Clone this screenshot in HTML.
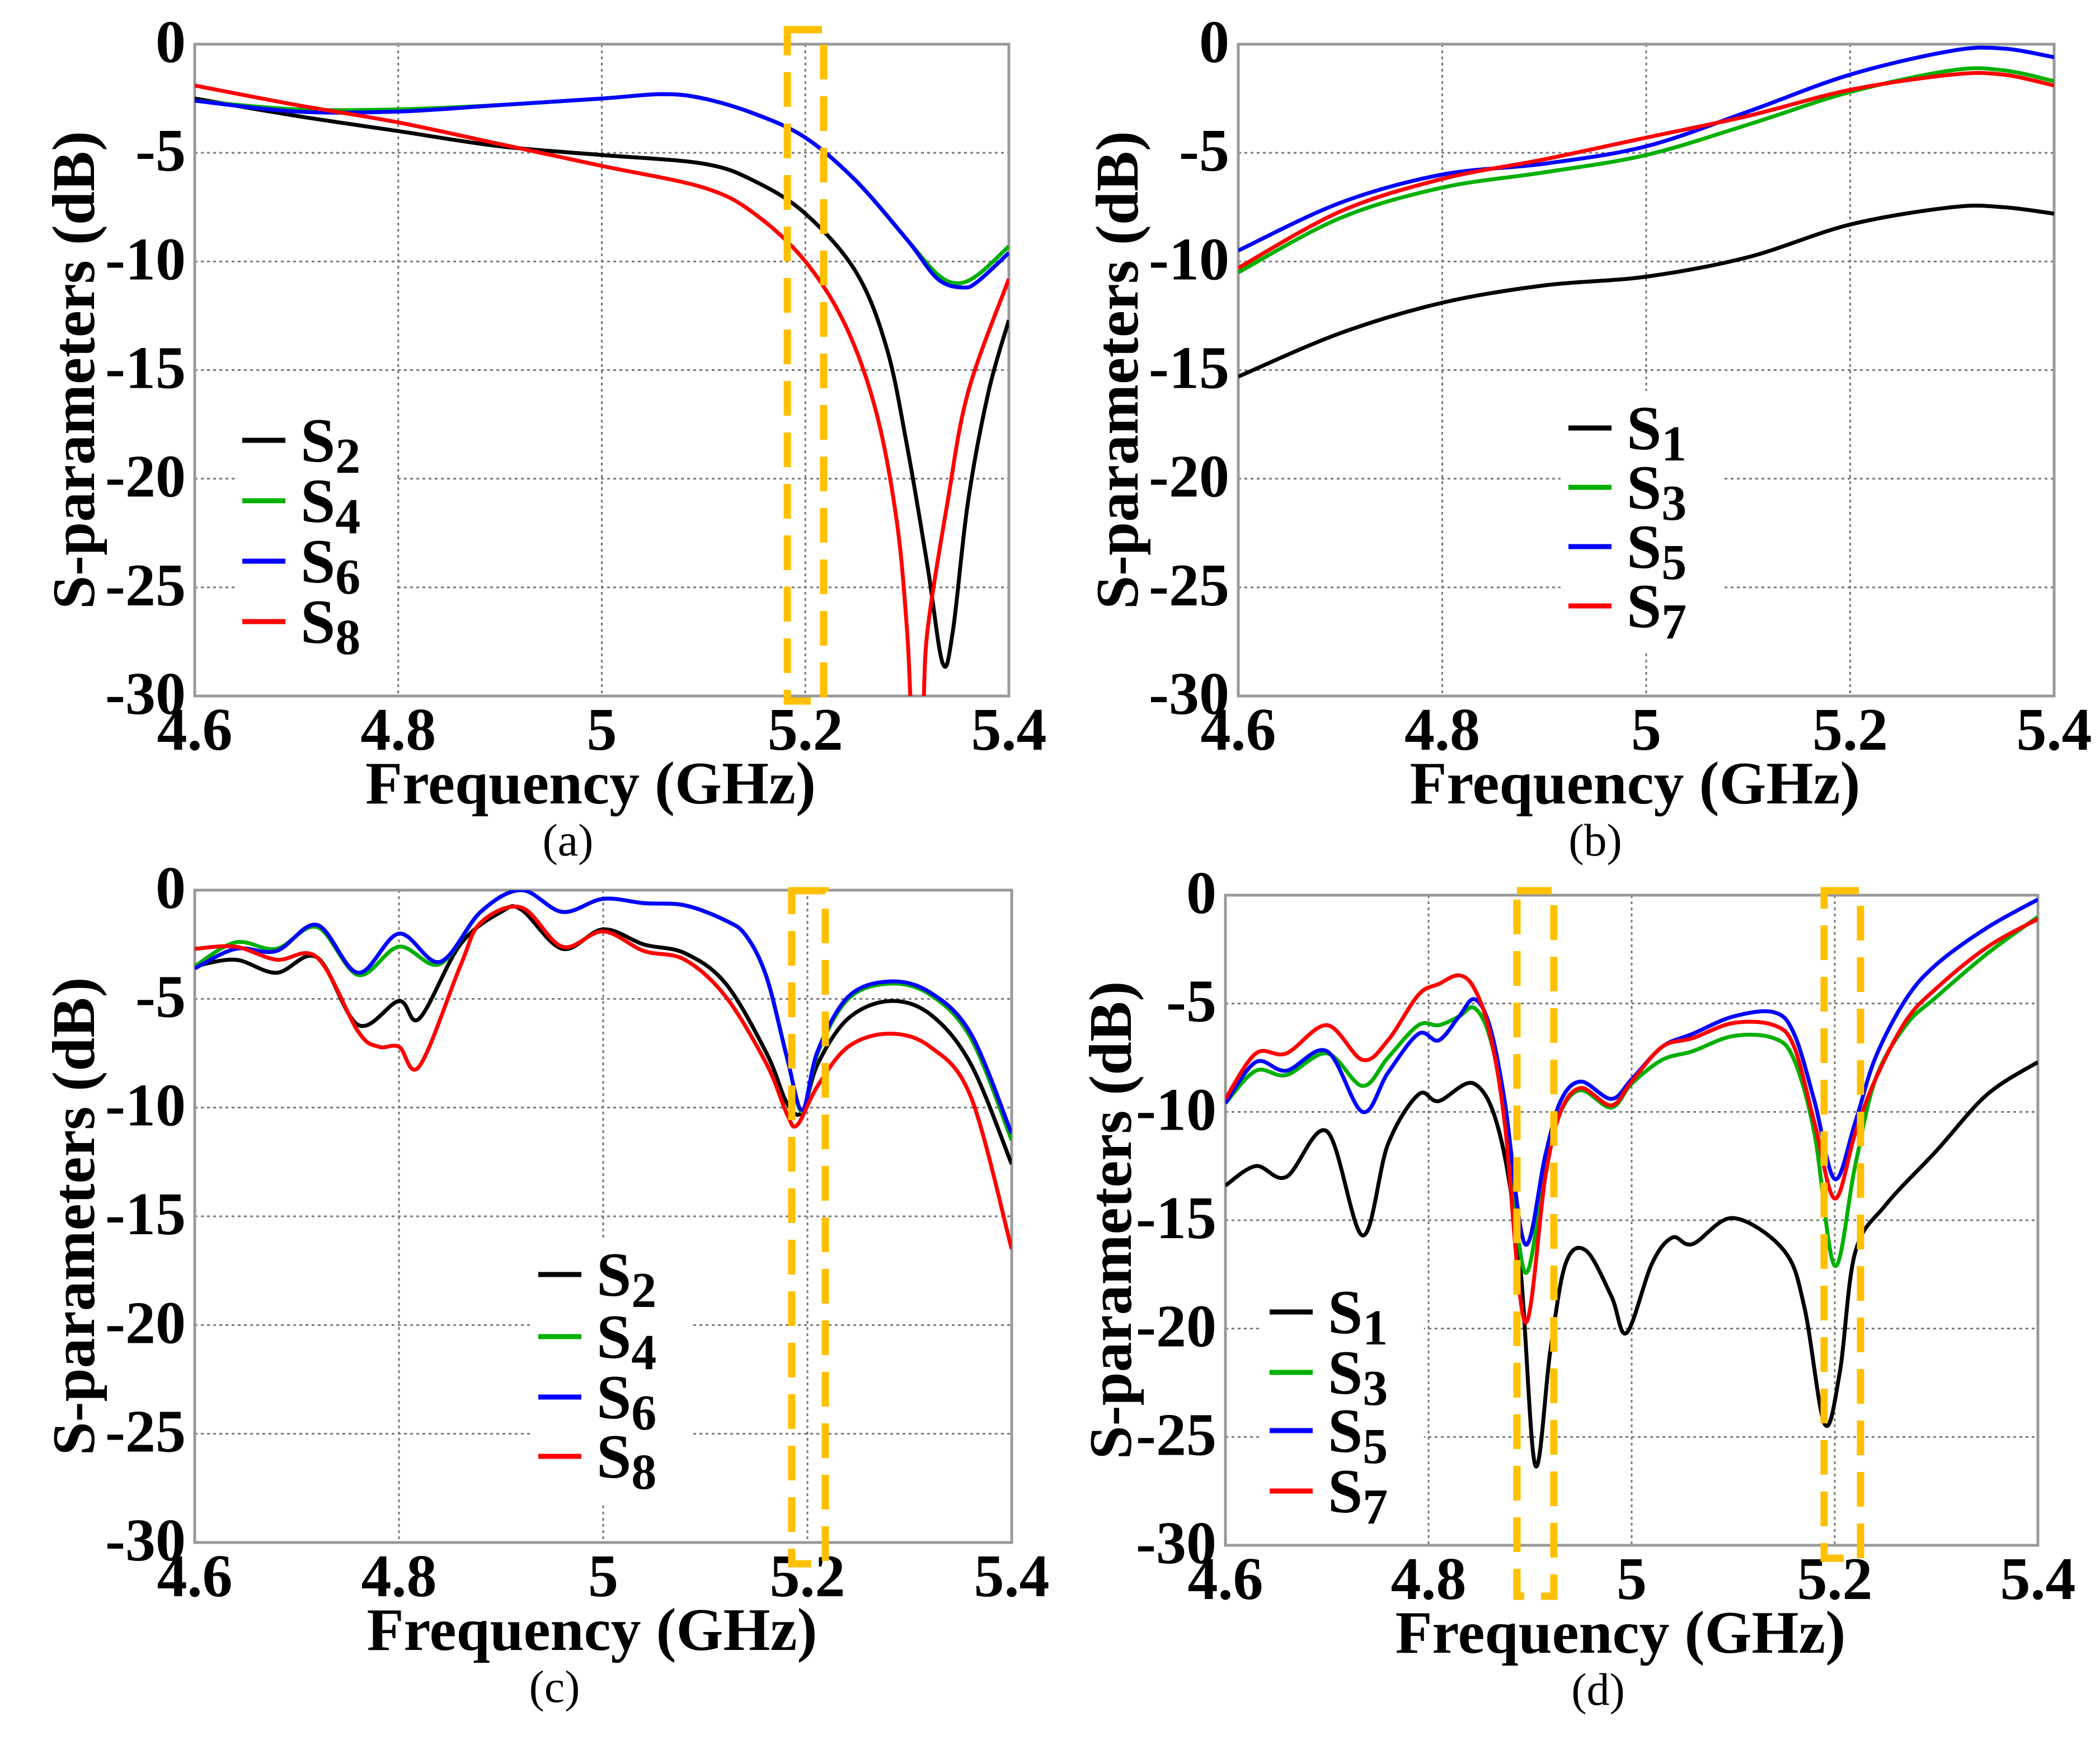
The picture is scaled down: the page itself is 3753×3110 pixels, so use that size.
<!DOCTYPE html>
<html><head><meta charset="utf-8"><style>
html,body{margin:0;padding:0;background:#fff}
svg{display:block}
.tk{font-family:"Liberation Serif",serif;font-weight:bold;font-size:108px;fill:#000}
.tt{font-family:"Liberation Serif",serif;font-weight:bold;font-size:108px;fill:#000}
.cap{font-family:"Liberation Serif",serif;font-size:82px;fill:#000}
.lg{font-family:"Liberation Serif",serif;font-weight:bold;font-size:112px;fill:#000}
</style></head><body>
<svg id="fig" width="3753" height="3110" viewBox="0 0 3753 3110" xmlns="http://www.w3.org/2000/svg"></svg>
<script>
// ---- data ----
const xTicks=[4.6,4.8,5.0,5.2,5.4];
const xTickLabels=["4.6","4.8","5","5.2","5.4"];
const yTicks=[0,-5,-10,-15,-20,-25,-30];
const yTickLabels=["0","-5","-10","-15","-20","-25","-30"];

const aS2f=[4.6,4.7,4.8,4.9,5.0,5.1,5.15,5.2,5.25,5.28,5.3,5.32,5.335,5.345,5.36,5.38,5.4];
const aS2v=[-2.5,-3.3,-4.0,-4.7,-5.1,-5.5,-6.3,-7.8,-10.5,-14,-18.5,-24,-28.5,-27,-21,-16,-12.7];
const aS4f=[4.6,4.7,4.8,4.9,5.0,5.06,5.1,5.15,5.2,5.25,5.3,5.33,5.35,5.37,5.4];
const aS4v=[-2.6,-3.0,-3.0,-2.8,-2.5,-2.3,-2.5,-3.2,-4.3,-6.3,-9.0,-10.6,-11.0,-10.6,-9.3];
const aS6f=[4.6,4.7,4.8,4.9,5.0,5.06,5.1,5.15,5.2,5.25,5.3,5.33,5.355,5.37,5.4];
const aS6v=[-2.6,-3.1,-3.1,-2.8,-2.5,-2.3,-2.5,-3.2,-4.3,-6.3,-9.0,-10.8,-11.2,-10.9,-9.6];
const aS8f=[4.6,4.7,4.8,4.9,5.0,5.1,5.15,5.2,5.24,5.27,5.29,5.3,5.305,5.315,5.32,5.34,5.36,5.4];
const aS8v=[-1.9,-2.8,-3.6,-4.6,-5.6,-6.6,-7.8,-10.0,-13,-17,-22,-27,-31,-31,-27,-21,-16,-10.8];

const bF=[4.6,4.7,4.8,4.9,5.0,5.1,5.2,5.3,5.35,5.4];
const bS1v=[-15.3,-13.3,-11.9,-11.1,-10.7,-9.8,-8.3,-7.5,-7.5,-7.8];
const bS3v=[-10.5,-8.0,-6.6,-5.9,-5.1,-3.7,-2.2,-1.2,-1.2,-1.7];
const bS5v=[-9.5,-7.3,-6.0,-5.5,-4.7,-3.1,-1.4,-0.3,-0.2,-0.6];
const bS7v=[-10.3,-7.7,-6.2,-5.3,-4.3,-3.3,-2.1,-1.4,-1.4,-1.9];

const cS2f=[4.6,4.64,4.68,4.72,4.76,4.8,4.82,4.86,4.9,4.92,4.96,5.0,5.04,5.08,5.12,5.16,5.18,5.195,5.21,5.24,5.28,5.32,5.36,5.4];
const cS2v=[-3.5,-3.2,-3.8,-3.1,-6.2,-5.1,-5.9,-2.5,-1.0,-0.9,-2.7,-1.8,-2.5,-2.9,-4.3,-7.5,-9.8,-10.2,-8.0,-5.9,-5.1,-5.7,-8.0,-12.6];
const cS4f=[4.6,4.64,4.68,4.72,4.76,4.8,4.84,4.88,4.92,4.96,5.0,5.04,5.08,5.12,5.14,5.16,5.18,5.195,5.21,5.24,5.28,5.32,5.36,5.4];
const cS4v=[-3.5,-2.4,-2.7,-1.7,-3.9,-2.6,-3.4,-1.0,0,-1.0,-0.4,-0.6,-0.7,-1.4,-2.1,-4.0,-7.7,-10.2,-7.5,-5.0,-4.3,-4.8,-6.8,-11.5];
const cS6v=[-3.6,-2.7,-2.8,-1.6,-3.8,-2.0,-3.3,-1.0,0,-1.0,-0.4,-0.6,-0.7,-1.4,-2.1,-4.0,-7.7,-10.1,-7.4,-4.9,-4.2,-4.7,-6.6,-11.2];
const cS8f=[4.6,4.64,4.68,4.72,4.76,4.78,4.8,4.82,4.86,4.88,4.92,4.96,5.0,5.04,5.08,5.12,5.16,5.18,5.19,5.21,5.24,5.28,5.32,5.36,5.4];
const cS8v=[-2.7,-2.6,-3.2,-3.1,-6.5,-7.2,-7.2,-8.1,-3.5,-1.5,-0.8,-2.6,-1.9,-2.8,-3.2,-4.9,-8.0,-10.3,-10.8,-9.0,-7.2,-6.6,-7.2,-9.5,-16.5];

const dS1f=[4.6,4.63,4.66,4.7,4.735,4.76,4.79,4.81,4.845,4.87,4.89,4.905,4.92,4.935,4.955,4.98,4.995,5.02,5.04,5.06,5.1,5.15,5.17,5.19,5.205,5.22,5.25,5.3,5.35,5.4];
const dS1v=[-13.4,-12.5,-13.0,-10.9,-15.7,-11.5,-9.2,-9.5,-8.7,-11,-17,-26.3,-21,-17,-16.4,-18.5,-20.2,-17,-15.8,-16.1,-14.9,-16.4,-19,-24.4,-22,-16.5,-14.3,-11.8,-9.2,-7.7];
const dF=[4.6,4.63,4.66,4.7,4.735,4.76,4.79,4.81,4.83,4.845,4.86,4.875,4.895,4.915,4.93,4.95,4.98,5.0,5.03,5.06,5.1,5.14,5.16,5.18,5.2,5.22,5.24,5.27,5.3,5.35,5.4];
const dS3v=[-9.6,-8.1,-8.3,-7.3,-8.8,-7.5,-6.0,-6.0,-5.6,-5.2,-6.5,-10,-17.4,-12.5,-10,-9.0,-9.8,-8.7,-7.6,-7.2,-6.5,-6.6,-7.6,-11,-17.1,-12.5,-8.5,-6,-4.7,-2.7,-1.0];
const dS5v=[-9.6,-7.7,-8.1,-7.2,-10.0,-8.2,-6.4,-6.7,-5.6,-4.8,-6.0,-9.5,-16.1,-12,-9.5,-8.6,-9.4,-8.5,-7.0,-6.4,-5.6,-5.4,-6.4,-9.5,-13.1,-10.5,-7.5,-4.8,-3.2,-1.5,-0.2];
const dS7v=[-9.4,-7.3,-7.3,-6.0,-7.6,-6.7,-4.6,-4.1,-3.7,-4.3,-6.3,-10.5,-19.7,-13,-10,-8.9,-9.7,-8.6,-7.0,-6.6,-5.9,-6.0,-7.0,-10.5,-14.0,-11,-8.5,-5.8,-4.3,-2.4,-1.1];

const NS="http://www.w3.org/2000/svg";
const svg=document.getElementById('fig');
function mk(tag,attrs,parent){const e=document.createElementNS(NS,tag);for(const k in attrs)e.setAttribute(k,attrs[k]);(parent||svg).appendChild(e);return e;}

const panels=[
 {id:'a',L:348,R:1803,T:79,B:1244,cap:'(a)',capx:1015,ytx:132,boxes:[[1407,1472,53,1253]],
  legX:433,legY:[787,895,1003,1111],
  series:[['S','2','#000',aS2f,aS2v],['S','4','#00b000',aS4f,aS4v],['S','6','#0000ff',aS6f,aS6v],['S','8','#ff0000',aS8f,aS8v]]},
 {id:'b',L:2213,R:3671,T:79,B:1244,cap:'(b)',capx:2851,ytx:1997,boxes:[],
  legX:2803,legY:[765,871,977,1083],
  series:[['S','1','#000',bF,bS1v],['S','3','#00b000',bF,bS3v],['S','5','#0000ff',bF,bS5v],['S','7','#ff0000',bF,bS7v]]},
 {id:'c',L:348,R:1808,T:1591,B:2757,cap:'(c)',capx:991,ytx:132,boxes:[[1415,1475,1592,2795]],
  legX:962,legY:[2278,2389,2497,2603],
  series:[['S','2','#000',cS2f,cS2v],['S','4','#00b000',cS4f,cS4v],['S','6','#0000ff',cS4f,cS6v],['S','8','#ff0000',cS8f,cS8v]]},
 {id:'d',L:2190,R:3642,T:1600,B:2762,cap:'(d)',capx:2856,ytx:1985,boxes:[[2711,2777,1592,2853],[3260,3325,1592,2785]],
  legX:2269,legY:[2345,2453,2557,2665],
  series:[['S','1','#000',dS1f,dS1v],['S','3','#00b000',dF,dS3v],['S','5','#0000ff',dF,dS5v],['S','7','#ff0000',dF,dS7v]]}
];

function smooth(pts){
  let d='M'+pts[0][0].toFixed(1)+','+pts[0][1].toFixed(1);
  for(let i=0;i<pts.length-1;i++){
    const p0=pts[i-1]||pts[i],p1=pts[i],p2=pts[i+1],p3=pts[i+2]||p2;
    const c1=[p1[0]+(p2[0]-p0[0])/6,p1[1]+(p2[1]-p0[1])/6];
    const c2=[p2[0]-(p3[0]-p1[0])/6,p2[1]-(p3[1]-p1[1])/6];
    d+=' C'+c1[0].toFixed(1)+','+c1[1].toFixed(1)+' '+c2[0].toFixed(1)+','+c2[1].toFixed(1)+' '+p2[0].toFixed(1)+','+p2[1].toFixed(1);
  }
  return d;
}

panels.forEach(P=>{
  const g=mk('g',{});
  
  
  const xs=f=>P.L+(f-4.6)/0.8*(P.R-P.L);
  const ys=v=>P.T+(-v)/30*(P.B-P.T);
  const cp=mk('clipPath',{id:'clip'+P.id},g);
  mk('rect',{x:P.L,y:P.T,width:P.R-P.L,height:P.B-P.T},cp);
  xTicks.forEach((t,i)=>{
    const l=mk('line',{x1:xs(t),x2:xs(t),y1:P.T,y2:P.B,stroke:'#777','stroke-width':3,'stroke-dasharray':'5,6'},g);
    
    
    const tx=mk('text',{x:xs(t),y:P.B+96,'text-anchor':'middle',class:'tk'},g);
    tx.textContent=xTickLabels[i];
    
    
  });
  yTicks.forEach((t,i)=>{
    const l=mk('line',{x1:P.L,x2:P.R,y1:ys(t),y2:ys(t),stroke:'#777','stroke-width':3,'stroke-dasharray':'5,6'},g);
    
    
    const tx=mk('text',{x:P.L-16,y:ys(t)+32,'text-anchor':'end',class:'tk'},g);
    tx.textContent=yTickLabels[i];
    
    
  });
  const fr=mk('rect',{x:P.L,y:P.T,width:P.R-P.L,height:P.B-P.T,fill:'none',stroke:'#999','stroke-width':5},g);
  
  
  P.series.forEach(s=>{
    const pts=s[3].map((f,i)=>[xs(f),ys(s[4][i])]);
    const p=mk('path',{d:smooth(pts),fill:'none',stroke:s[2],'stroke-width':7,'stroke-linejoin':'round','clip-path':'url(#clip'+P.id+')'},g);
    
    
  });
  P.boxes.forEach(b=>{
    const r=mk('rect',{x:b[0],y:b[2],width:b[1]-b[0],height:b[3]-b[2],fill:'none',stroke:'#ffc000','stroke-width':13,'stroke-dasharray':'62,30'},g);
    
    
  });
  const y0=P.legY[0],y3=P.legY[P.legY.length-1];
  const bg=mk('rect',{x:P.legX-14,y:y0-66,width:290,height:y3-y0+150,fill:'#fff'},g);
  
  
  P.series.forEach((s,i)=>{
    const y=P.legY[i];
    const l=mk('line',{x1:P.legX,x2:P.legX+77,y1:y,y2:y,stroke:s[2],'stroke-width':9},g);
    
    
    const t=mk('text',{x:P.legX+104,y:y+38,class:'lg'},g);
    
    
    t.appendChild(document.createTextNode(s[0]));
    const ts=mk('tspan',{dy:20,'font-size':'90px'},t);
    ts.textContent=s[1];
  });
  const cx=(P.L+P.R)/2;
  const xt=mk('text',{x:cx-20,y:P.B+192,'text-anchor':'middle',class:'tt'},g);
  xt.textContent='Frequency (GHz)';
  
  
  const cy=(P.T+P.B)/2;
  const yt=mk('text',{x:P.ytx,y:cy,'text-anchor':'middle',class:'tt',transform:'rotate(-90 '+P.ytx+' '+cy+') translate(0 36)'},g);
  yt.textContent='S-parameters (dB)';
  
  
  const cap=mk('text',{x:P.capx,y:P.B+285,'text-anchor':'middle',class:'cap'},g);
  cap.textContent=P.cap;
  
  
});
</script>
</body></html>
